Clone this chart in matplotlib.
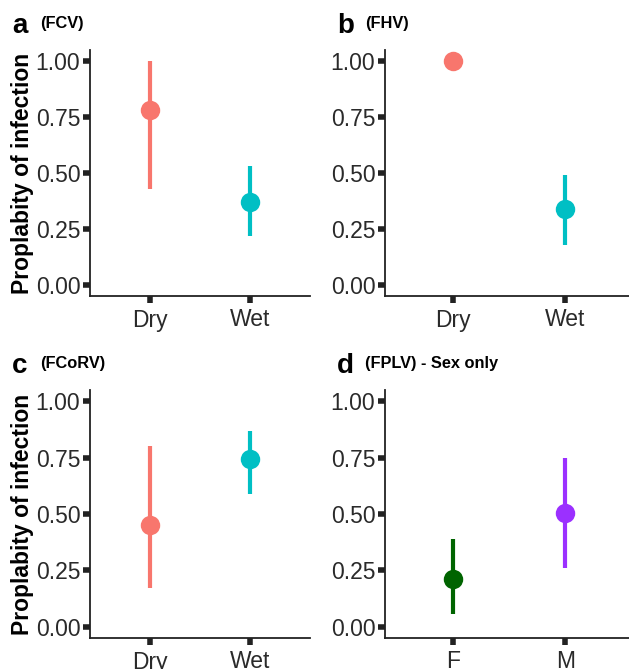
import matplotlib
matplotlib.use("Agg")
import matplotlib.pyplot as plt

plt.rcParams["font.family"] = ["Liberation Sans", "DejaVu Sans"]

# data
cats_season = ["Dry", "Wet"]
cats_sex = ["F", "M"]

fcv_est = [0.78, 0.37]
fcv_lo = [0.43, 0.22]
fcv_hi = [1.00, 0.53]

fhv_est = [1.00, 0.34]
fhv_lo = [1.00, 0.18]
fhv_hi = [1.00, 0.49]

fcorv_est = [0.45, 0.745]
fcorv_lo = [0.17, 0.59]
fcorv_hi = [0.80, 0.87]

fplv_est = [0.21, 0.505]
fplv_lo = [0.055, 0.26]
fplv_hi = [0.39, 0.75]

season_colors = ["#F8766D", "#00BFC4"]
sex_colors = ["#006400", "#9B30FF"]

W, H = 629, 669
fig = plt.figure(figsize=(W / 100, H / 100), dpi=100)


def box(l, t, r, b):
    return [l / W, 1 - b / H, (r - l) / W, (b - t) / H]


# letter x position in pixels, then the panel box
panels = [
    ("a", "(FCV)", cats_season, fcv_est, fcv_lo, fcv_hi, season_colors, 12, box(90, 50, 310, 296), True),
    ("b", "(FHV)", cats_season, fhv_est, fhv_lo, fhv_hi, season_colors, 337, box(385, 50, 633, 296), False),
    ("c", "(FCoRV)", cats_season, fcorv_est, fcorv_lo, fcorv_hi, season_colors, 12, box(90, 390, 310, 638), True),
    ("d", "(FPLV) - Sex only", cats_sex, fplv_est, fplv_lo, fplv_hi, sex_colors, 337, box(385, 390, 633, 638), False),
]

for letter, sub, cats, est, lo, hi, cols, lpx, rect, ylab in panels:
    ax = fig.add_axes(rect)
    xs = range(1, len(cats) + 1)
    for x, e, l, h, c in zip(xs, est, lo, hi, cols):
        ax.plot([x, x], [l, h], color=c, lw=3, solid_capstyle="butt", zorder=2)
        ax.plot(x, e, "o", color=c, ms=14, mec="none", zorder=3)
    ax.set_xlim(0.4, 2.6)
    ax.set_ylim(-0.05, 1.05)
    ax.set_xticks(list(xs))
    ax.set_xticklabels(cats)
    ax.set_yticks([0, 0.25, 0.5, 0.75, 1.0])
    ax.set_yticklabels(["0.00", "0.25", "0.50", "0.75", "1.00"])
    for s in ["top", "right"]:
        ax.spines[s].set_visible(False)
    for s in ["left", "bottom"]:
        ax.spines[s].set_linewidth(1.3)
        ax.spines[s].set_color("#222222")
    ax.tick_params(axis="both", length=5, width=4, color="#222222",
                   labelsize=16.5, labelcolor="#2a2a2a", pad=2)
    ax.tick_params(axis="x", pad=4)
    if ylab:
        ax.set_ylabel("Proplabity of infection", fontsize=16.5, fontweight="bold", labelpad=1)
    top = rect[1] + rect[3]
    fig.text(lpx / W, top + 17 / H, letter, fontsize=20, fontweight="bold", va="baseline")
    fig.text((lpx + 28) / W, top + 22 / H, sub, fontsize=11.8, fontweight="bold", va="baseline")

fig.savefig("out.png", dpi=100)
